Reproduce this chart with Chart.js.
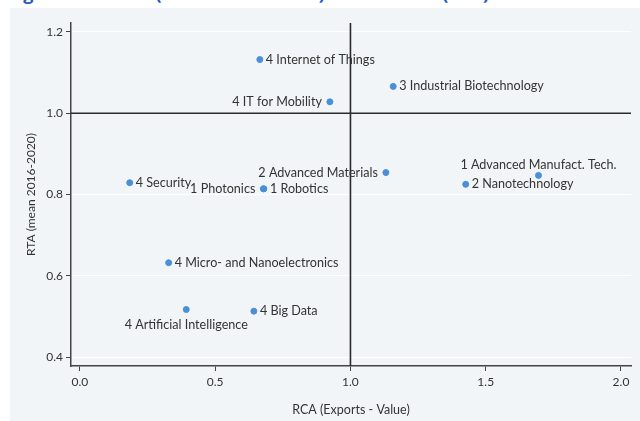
<!DOCTYPE html>
<html>
<head>
<meta charset="utf-8">
<script src="https://cdn.jsdelivr.net/npm/chart.js@4.4.1/dist/chart.umd.min.js"></script>
<style>
  html, body { margin: 0; padding: 0; background: #ffffff; overflow: hidden; }
  body { width: 640px; height: 421px; position: relative; }
  #title {
    position: absolute; left: 8px; top: -17px; margin: 0;
    font: bold 18px "Open Sans", sans-serif; line-height: 20px;
    color: #1f5cc4; white-space: nowrap;
  }
  #panel {
    position: absolute; left: 10px; top: 8px; width: 630px; height: 413px;
    background: #f2f5f7;
  }
</style>
</head>
<body>
<h1 id="title">Figure 12: Trade (merchandise RCA) and Patents (RTA)</h1>
<div id="panel"><canvas id="chart" width="630" height="413"></canvas></div>
<script>
// ==========================================
// Data
// ==========================================
const techLabels = [
    '4 Internet of Things',
    '4 IT for Mobility',
    '3 Industrial Biotechnology',
    '2 Advanced Materials',
    '1 Advanced Manufact. Tech.',
    '2 Nanotechnology',
    '4 Security',
    '1 Photonics',
    '1 Robotics',
    '4 Micro- and Nanoelectronics',
    '4 Artificial Intelligence',
    '4 Big Data'
];
const rcaValues = [0.665, 0.924, 1.158, 1.131, 1.695, 1.426, 0.184, 0.678, 0.680, 0.328, 0.393, 0.643];
const rtaValues = [1.132, 1.028, 1.066, 0.854, 0.847, 0.825, 0.829, 0.814, 0.814, 0.632, 0.517, 0.513];
const xTicks = [0, 0.5, 1.0, 1.5, 2.0];
const yTicks = [0.4, 0.6, 0.8, 1.0, 1.2];

// where each label sits relative to its marker
const labelSide = ['right', 'left', 'right', 'left', 'above', 'right', 'right', 'left', 'right', 'right', 'below', 'right'];

const textColor = '#333333';
const pointColor = '#4a8fd8';
const labelFont = '12.6px Lato, sans-serif';

// ==========================================
// Plugins: reference lines at 1.0 and point labels
// ==========================================
const refLines = {
    id: 'refLines',
    beforeDatasetsDraw(chart) {
        const { ctx, chartArea, scales } = chart;
        const x1 = scales.x.getPixelForValue(1);
        const y1 = scales.y.getPixelForValue(1);
        ctx.save();
        ctx.strokeStyle = '#2a2a2a';
        ctx.lineWidth = 1.6;
        ctx.beginPath();
        ctx.moveTo(chartArea.left, y1);
        ctx.lineTo(chartArea.right, y1);
        ctx.moveTo(x1, chartArea.top);
        ctx.lineTo(x1, chartArea.bottom);
        ctx.stroke();
        ctx.restore();
    }
};

const pointLabels = {
    id: 'pointLabels',
    afterDatasetsDraw(chart) {
        const { ctx } = chart;
        const meta = chart.getDatasetMeta(0);
        ctx.save();
        ctx.font = labelFont;
        ctx.fillStyle = textColor;
        meta.data.forEach((pt, i) => {
            const side = labelSide[i];
            const text = techLabels[i];
            if (side === 'right') {
                ctx.textAlign = 'left'; ctx.textBaseline = 'middle';
                ctx.fillText(text, pt.x + 6, pt.y);
            } else if (side === 'left') {
                ctx.textAlign = 'right'; ctx.textBaseline = 'middle';
                ctx.fillText(text, pt.x - 8, pt.y);
            } else if (side === 'above') {
                ctx.textAlign = 'center'; ctx.textBaseline = 'middle';
                ctx.fillText(text, pt.x, pt.y - 10);
            } else {
                ctx.textAlign = 'center'; ctx.textBaseline = 'middle';
                ctx.fillText(text, pt.x, pt.y + 15);
            }
        });
        ctx.restore();
    }
};

const points = rcaValues.map((x, i) => ({ x: x, y: rtaValues[i] }));

new Chart(document.getElementById('chart'), {
    type: 'scatter',
    data: {
        datasets: [{
            data: points,
            backgroundColor: pointColor,
            borderColor: pointColor,
            pointRadius: 3,
            pointHoverRadius: 3
        }]
    },
    plugins: [refLines, pointLabels],
    options: {
        responsive: false,
        animation: false,
        events: [],
        layout: { padding: { left: 0, top: 15, right: 9, bottom: 0 } },
        plugins: { legend: { display: false }, tooltip: { enabled: false } },
        scales: {
            x: {
                type: 'linear',
                min: -0.033,
                max: 2.037,
                afterBuildTicks: (axis) => { axis.ticks = xTicks.map(v => ({ value: v })); },
                afterFit: (axis) => { axis.height = 55; },
                border: { color: '#444', width: 1.5 },
                grid: { drawOnChartArea: false, tickColor: '#444', tickLength: 5 },
                ticks: {
                    color: textColor, padding: 4,
                    font: { family: 'Lato, sans-serif', size: 12 },
                    callback: (v) => Number(v).toFixed(1)
                },
                title: {
                    display: true, text: 'RCA (Exports - Value)', color: textColor,
                    font: { family: 'Lato, sans-serif', size: 12.5 }, padding: { top: 8 }
                }
            },
            y: {
                type: 'linear',
                min: 0.378,
                max: 1.222,
                afterBuildTicks: (axis) => { axis.ticks = yTicks.map(v => ({ value: v })); },
                afterFit: (axis) => { axis.width = 61; },
                border: { color: '#444', width: 1.5 },
                grid: { color: '#ffffff', lineWidth: 1, tickColor: '#444', tickLength: 5 },
                ticks: {
                    color: textColor, padding: 3,
                    font: { family: 'Lato, sans-serif', size: 12 },
                    callback: (v) => Number(v).toFixed(1)
                },
                title: {
                    display: true, text: 'RTA (mean 2016-2020)', color: textColor,
                    font: { family: 'Lato, sans-serif', size: 12 }, padding: { top: 14, bottom: 0 }
                }
            }
        }
    }
});
</script>
</body>
</html>
